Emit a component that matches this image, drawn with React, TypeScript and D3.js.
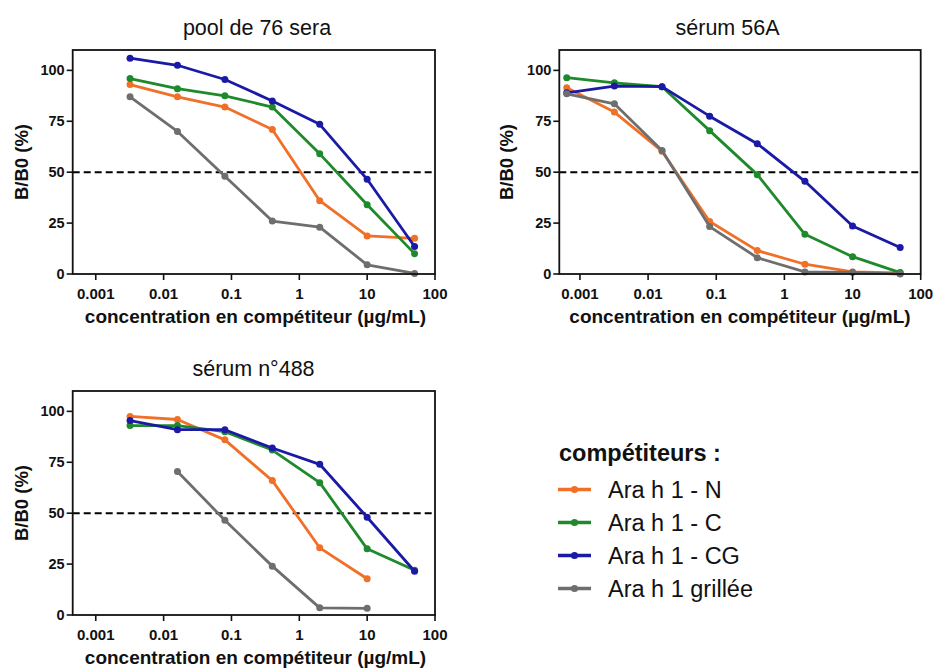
import React from 'react';
import * as d3 from 'd3';

// ---------- data ----------
const seriesNames = ['Ara h 1 - N', 'Ara h 1 - C', 'Ara h 1 - CG', 'Ara h 1 grillée'];
const seriesColors = ['#f07028', '#1f8a2c', '#1a1aa6', '#6e6e6e'];

const xTickValues = [0.001, 0.01, 0.1, 1, 10, 100];
const xTickLabels = ['0.001', '0.01', '0.1', '1', '10', '100'];
const yTickValues = [0, 25, 50, 75, 100];

// pool de 76 sera
const poolDoses = [0.0032, 0.016, 0.08, 0.4, 2, 10, 50];
const poolN = [93, 87, 82, 71, 36, 18.7, 17.5];
const poolC = [96, 91, 87.5, 82, 59, 34, 10];
const poolCG = [106, 102.5, 95.5, 85, 73.5, 46.5, 13.5];
const poolGrill = [87, 70, 48, 26, 23, 4.5, 0.3];

// sérum 56A
const s56Doses = [0.00064, 0.0032, 0.016, 0.08, 0.4, 2, 10, 50];
const s56N = [91.5, 79.5, 60.3, 25.8, 11.5, 4.8, 1, 0.5];
const s56C = [96.4, 93.9, 92, 70.4, 48.8, 19.5, 8.5, 0.7];
const s56CG = [89, 92.3, 92, 77.5, 64, 45.5, 23.6, 13];
const s56Grill = [88.5, 83.6, 60.7, 23.3, 8, 1, 0.8, 0];

// sérum n°488
const s488Doses = [0.0032, 0.016, 0.08, 0.4, 2, 10, 50];
const s488DosesN = [0.0032, 0.016, 0.08, 0.4, 2, 10];
const s488DosesGrill = [0.016, 0.08, 0.4, 2, 10];
const s488N = [97.5, 96, 86, 66, 33, 17.8];
const s488C = [93, 93, 90, 81, 65, 32.5, 22];
const s488CG = [95.5, 91, 91, 82, 74, 48, 21.5];
const s488Grill = [70.5, 46.5, 24, 3.5, 3.3];

const thresholdValue = 50;
const yDomain = [0, 110];

const FONT = "'Liberation Sans', Arial, Helvetica, sans-serif";

type Series = { x: number[]; y: number[]; color: string };

function zip(xs: number[], ys: number[]) {
  return xs.map((x, i) => [x, ys[i]] as [number, number]);
}

type PanelProps = {
  left: number; right: number; top: number; bottom: number;
  logMin: number; title: string; titleX: number; titleY: number;
  yLabelX: number; xLabelX: number; xLabelY: number;
  series: Series[];
};

function Panel(p: PanelProps) {
  const x = d3.scaleLog().domain([Math.pow(10, p.logMin), 100]).range([p.left, p.right]);
  const y = d3.scaleLinear().domain(yDomain).range([p.bottom, p.top]);
  const line = d3.line<[number, number]>().x(d => x(d[0])).y(d => y(d[1]));
  const midY = (p.top + p.bottom) / 2;
  return (
    <g>
      <text x={p.titleX} y={p.titleY} textAnchor="middle" fontFamily={FONT} fontSize={21.5} fill="#111">{p.title}</text>
      {/* dashed threshold */}
      <line x1={p.left} x2={p.right} y1={y(thresholdValue)} y2={y(thresholdValue)} stroke="#000" strokeWidth={2} strokeDasharray="7,4" />
      {p.series.map((s, i) => (
        <g key={i}>
          <path d={line(zip(s.x, s.y)) || ''} fill="none" stroke={s.color} strokeWidth={2.8} strokeLinejoin="round" />
          {zip(s.x, s.y).map((d, j) => (
            <circle key={j} cx={x(d[0])} cy={y(d[1])} r={3.5} fill={s.color} />
          ))}
        </g>
      ))}
      {/* frame */}
      <rect x={p.left} y={p.top} width={p.right - p.left} height={p.bottom - p.top} fill="none" stroke="#111" strokeWidth={1.8} />
      {/* y ticks */}
      {yTickValues.map(v => (
        <g key={v}>
          <line x1={p.left - 6} x2={p.left} y1={y(v)} y2={y(v)} stroke="#111" strokeWidth={1.6} />
          <text x={p.left - 8} y={y(v) + 5} textAnchor="end" fontFamily={FONT} fontWeight="bold" fontSize={14.5} fill="#111">{v}</text>
        </g>
      ))}
      {/* x ticks */}
      {xTickValues.map((v, i) => (
        <g key={v}>
          <line x1={x(v)} x2={x(v)} y1={p.bottom} y2={p.bottom + 6} stroke="#111" strokeWidth={1.6} />
          <text x={x(v)} y={p.bottom + 25} textAnchor="middle" fontFamily={FONT} fontWeight="bold" fontSize={15} fill="#111">{xTickLabels[i]}</text>
        </g>
      ))}
      <text x={p.xLabelX} y={p.xLabelY} textAnchor="middle" fontFamily={FONT} fontWeight="bold" fontSize={19} fill="#111">concentration en compétiteur (µg/mL)</text>
      <text transform={`translate(${p.yLabelX},${midY}) rotate(-90)`} textAnchor="middle" fontFamily={FONT} fontWeight="bold" fontSize={18.5} fill="#111">B/B0 (%)</text>
    </g>
  );
}

export default function App() {
  const mk = (xs: number[][], ys: number[][]): Series[] => ys.map((yy, i) => ({ x: xs[i], y: yy, color: seriesColors[i] }));
  const poolSeries = mk([poolDoses, poolDoses, poolDoses, poolDoses], [poolN, poolC, poolCG, poolGrill]);
  const s56Series = mk([s56Doses, s56Doses, s56Doses, s56Doses], [s56N, s56C, s56CG, s56Grill]);
  const s488Series = mk([s488DosesN, s488Doses, s488Doses, s488DosesGrill], [s488N, s488C, s488CG, s488Grill]);

  const legendX = 558;
  const legendTitleY = 461;
  const legendRow0 = 489.5;
  const legendStep = 33;

  return (
    <svg width={933} height={669} style={{ position: 'absolute', left: 0, top: 0, background: '#fff' }}>
      <rect x={0} y={0} width={933} height={669} fill="#fff" />
      <Panel left={72.7} right={435} top={50} bottom={274} logMin={-3.34} title="pool de 76 sera" titleX={257} titleY={35}
        yLabelX={28} xLabelX={255.5} xLabelY={323} series={poolSeries} />
      <Panel left={559.3} right={920.7} top={50} bottom={274} logMin={-3.303} title="sérum 56A" titleX={727.5} titleY={35}
        yLabelX={513} xLabelX={740} xLabelY={323} series={s56Series} />
      <Panel left={72.7} right={435} top={391} bottom={615} logMin={-3.34} title="sérum n°488" titleX={253.5} titleY={376}
        yLabelX={28} xLabelX={255.5} xLabelY={664} series={s488Series} />
      <g>
        <text x={legendX + 1} y={legendTitleY} fontFamily={FONT} fontWeight="bold" fontSize={23.5} fill="#111">compétiteurs :</text>
        {seriesNames.map((name, i) => {
          const cy = legendRow0 + i * legendStep;
          return (
            <g key={name}>
              <line x1={legendX} x2={legendX + 33} y1={cy} y2={cy} stroke={seriesColors[i]} strokeWidth={3.5} />
              <circle cx={legendX + 16.5} cy={cy} r={3.6} fill={seriesColors[i]} />
              <text x={legendX + 50} y={cy + 8} fontFamily={FONT} fontSize={23.5} fill="#111">{name}</text>
            </g>
          );
        })}
      </g>
    </svg>
  );
}
